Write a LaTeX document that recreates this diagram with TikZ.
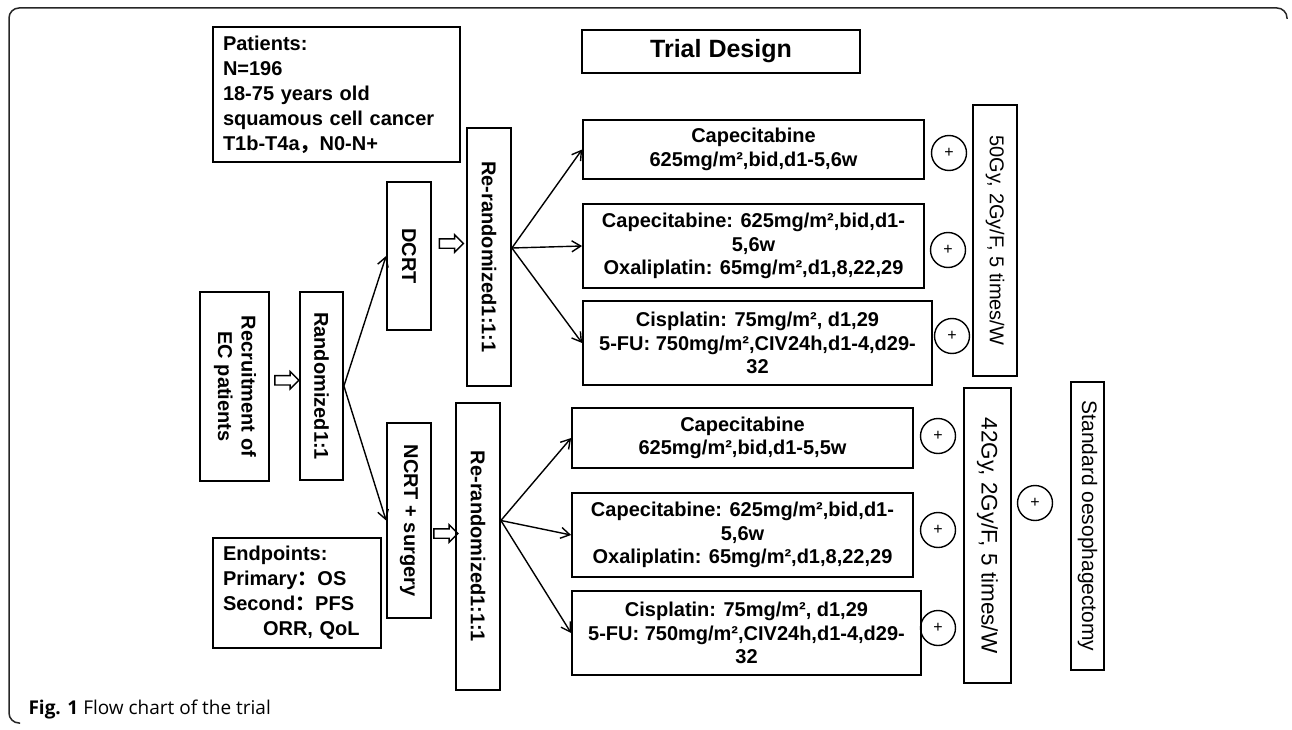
\documentclass[tikz,border=0pt]{standalone}
\usepackage{fontspec}
\setmainfont{Liberation Sans}
\newfontfamily\cjk{Noto Sans CJK SC}
\newfontfamily\capfont{Open Sans}
\usetikzlibrary{arrows.meta,shapes.arrows,calc}
\tikzset{%
  >={Straight Barb[length=9pt,width=11pt]},
  % Specifications for style of nodes:
            base/.style = {rectangle, draw=black, line width=1.8pt,
                           inner sep=0pt, text centered,
                           font=\bfseries\fontsize{20}{23.5}\selectfont},
            info/.style = {base, align=left, inner xsep=10pt,
                           font=\bfseries\fontsize{20}{25}\selectfont}, % patients, endpoints
            drug/.style = {base, align=center}, % chemo boxes
            vbox/.style = {base}, % upright boxes, text turned
             rad/.style = {base, font=\fontsize{20}{23.5}\selectfont},
            plus/.style = {circle, draw=black, line width=1.4pt, minimum size=35pt,
                           inner sep=0pt, font=\fontsize{16}{16}\selectfont},
          hollow/.style = {single arrow, draw=black, line width=1.4pt,
                           minimum height=24pt, inner xsep=0pt, inner ysep=4pt,
                           single arrow head extend=4pt},
}

\begin{document}
\begin{tikzpicture}[x=1pt, y=-1pt]
  \useasboundingbox (0,0) rectangle (1292,730);
  \draw[line width=1.5pt, black!85, rounded corners=10pt] (20,723) -| (9,8) -| (1287,19);
  % Specification of nodes (position, etc.)
  \node (patients) [info, text width=227pt, minimum height=135pt] at (336.5,94.5)
        {Patients:\\N=196\\18-75 years old\\squamous cell cancer\\T1b-T4a{\cjk ，}N0-N+};
  \node (trial)    [base, line width=2.5pt, minimum width=278pt, minimum height=43pt,
                    font=\bfseries\fontsize{25}{28}\selectfont] at (721,51.5) {Trial Design};
  \node (recruit)  [vbox, minimum width=69pt, minimum height=189pt] at (234.5,386.5)
        {\rotatebox{-90}{\begin{tabular}{@{}c@{}}Recruitment of\\EC patients\end{tabular}}};
  \node (random)   [vbox, minimum width=43pt, minimum height=188pt] at (321.5,386)
        {\rotatebox{-90}{Randomized1:1}};
  \node (dcrt)     [vbox, minimum width=44pt, minimum height=148pt] at (409,256)
        {\rotatebox{-90}{DCRT}};
  \node (ncrt)     [vbox, minimum width=44pt, minimum height=195pt] at (409,520.5)
        {\rotatebox{-90}{NCRT + surgery}};
  \node (rerandA)  [vbox, minimum width=44pt, minimum height=258pt] at (489,257)
        {\rotatebox{-90}{Re-randomized1:1:1}};
  \node (rerandB)  [vbox, minimum width=44pt, minimum height=287pt] at (478,546.5)
        {\rotatebox{-90}{Re-randomized1:1:1}};
  \node (endp)     [info, text width=148pt, minimum height=110pt] at (297,593)
        {Endpoints:\\Primary{\cjk ：}OS\\Second{\cjk ：}PFS\\\hspace*{40pt}ORR, QoL};
  % DCRT arm
  \node (capA)     [drug, minimum width=341pt, minimum height=59pt] at (753.5,149.5)
        {Capecitabine\\625mg/m²,bid,d1-5,6w};
  \node (capoxA)   [drug, minimum width=341pt, minimum height=84pt] at (753.5,246)
        {Capecitabine: 625mg/m²,bid,d1-\\5,6w\\Oxaliplatin: 65mg/m²,d1,8,22,29};
  \node (cisA)     [drug, minimum width=349pt, minimum height=84pt] at (757.5,343)
        {Cisplatin: 75mg/m², d1,29\\5-FU: 750mg/m²,CIV24h,d1-4,d29-\\32};
  \node (radA)     [rad, minimum width=44pt, minimum height=271pt] at (995,240.5)
        {\rotatebox{-90}{50Gy, 2Gy/F, 5 times/W}};
  % NCRT arm
  \node (capB)     [drug, minimum width=341pt, minimum height=60pt] at (742.5,438)
        {Capecitabine\\625mg/m²,bid,d1-5,5w};
  \node (capoxB)   [drug, minimum width=341pt, minimum height=84pt] at (742.5,535)
        {Capecitabine: 625mg/m²,bid,d1-\\5,6w\\Oxaliplatin: 65mg/m²,d1,8,22,29};
  \node (cisB)     [drug, minimum width=349pt, minimum height=84pt] at (746.5,633)
        {Cisplatin: 75mg/m², d1,29\\5-FU: 750mg/m²,CIV24h,d1-4,d29-\\32};
  \node (radB)     [rad, minimum width=47pt, minimum height=295pt,
                    font=\fontsize{22.5}{26}\selectfont] at (987.5,535.5)
        {\rotatebox{-90}{42Gy, 2Gy/F, 5 times/W}};
  \node (surg)     [rad, minimum width=33pt, minimum height=288pt,
                    font=\fontsize{21}{24}\selectfont] at (1087.5,526)
        {\rotatebox{-90}{Standard oesophagectomy}};
  % plus signs
  \node (plusA1) [plus] at (949,153) {+};
  \node (plusA2) [plus] at (948,250) {+};
  \node (plusA3) [plus] at (952,336) {+};
  \node (plusB1) [plus] at (938,436) {+};
  \node (plusB2) [plus] at (938,530) {+};
  \node (plusB3) [plus] at (938,628) {+};
  \node (plusS)  [plus] at (1035,503) {+};
  % hollow arrows between boxes
  \node (harrow1) [hollow] at ($(recruit.east)!0.5!(random.west)+(0,-6)$) {};
  \node (harrow2) [hollow] at ($(dcrt.east)!0.5!(rerandA.west)+(0,-13)$) {};
  \node (harrow3) [hollow] at ($(ncrt.east)!0.5!(rerandB.west)$) {};
  \node (caption) [anchor=base west, font=\capfont\fontsize{19}{22}\selectfont]
        at (25,714) {\textbf{Fig. 1} Flow chart of the trial};
  % Specification of lines between nodes specified above
  \coordinate (splitA) at ($(rerandA.east)+(0,-9)$);
  \coordinate (splitB) at (rerandB.east |- ncrt.east);
  \draw[->, line width=1.4pt] (random.east) -- (dcrt.west);
  \draw[->, line width=1.4pt] (random.east) -- (ncrt.west);
  \draw[->, line width=1.4pt] (splitA) -- (capA.west);
  \draw[->, line width=1.4pt] (splitA) -- (capoxA.west);
  \draw[->, line width=1.4pt] (splitA) -- (cisA.west);
  \draw[->, line width=1.4pt] (splitB) -- (capB.west);
  \draw[->, line width=1.4pt] (splitB) -- (capoxB.west);
  \draw[->, line width=1.4pt] (splitB) -- (cisB.west);
\end{tikzpicture}
\end{document}
